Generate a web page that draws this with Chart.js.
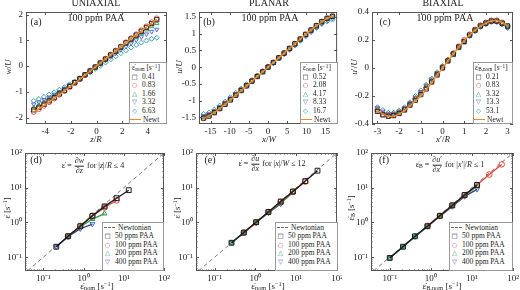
<!DOCTYPE html>
<html>
<head>
<meta charset="utf-8">
<script src="https://cdn.jsdelivr.net/npm/chart.js@4.4.1/dist/chart.umd.min.js"></script>
<style>
body{margin:0;width:520px;height:290px;position:relative;overflow:hidden;background:#fff;font-family:"Liberation Serif","Times New Roman",serif;color:#222}
canvas{position:absolute;display:block}
.t{position:absolute;white-space:nowrap;line-height:1;transform:translate(-50%,-50%);z-index:2}
.rot{transform:translate(-50%,-50%) rotate(-90deg)}
i{font-style:italic}
sub{font-size:70%;line-height:0;vertical-align:-0.25em}
sup{font-size:70%;line-height:0;vertical-align:0.45em}
.leg{position:absolute;z-index:3;background:#fff;border:1px solid #999;box-sizing:border-box;font-size:7.5px;white-space:nowrap;overflow:hidden}
.leg div{height:8.6px;line-height:8.6px}
.sym{display:inline-block;width:9px;text-align:center;margin-right:3px;font-family:"DejaVu Sans",sans-serif;font-size:6.5px}
.ln{display:inline-block;width:11px;height:0;vertical-align:middle;margin-right:2px}
.fr{display:inline-block;vertical-align:middle;text-align:center;margin:0 1px}
.fr span{display:block;line-height:1.1}
.fr span:first-child{border-bottom:0.7px solid #222}
</style>
</head>
<body>

<canvas id="ca" width="172" height="145" style="left:0;top:0"></canvas>
<canvas id="cb" width="170" height="145" style="left:172px;top:0"></canvas>
<canvas id="cc" width="178" height="145" style="left:342px;top:0"></canvas>
<canvas id="cd" width="172" height="145" style="left:0;top:145px"></canvas>
<canvas id="ce" width="170" height="145" style="left:172px;top:145px"></canvas>
<canvas id="cf" width="178" height="145" style="left:342px;top:145px"></canvas>

<!-- top row text -->
<div class="t" style="left:96px;top:3px;font-size:10px">UNIAXIAL</div>
<div class="t" style="left:269px;top:3px;font-size:10px">PLANAR</div>
<div class="t" style="left:443px;top:3px;font-size:10px">BIAXIAL</div>
<div class="t" style="left:36px;top:22px;font-size:10px">(a)</div>
<div class="t" style="left:96px;top:18px;font-size:10px">100 ppm PAA</div>
<div class="t" style="left:209px;top:22px;font-size:10px">(b)</div>
<div class="t" style="left:270px;top:18px;font-size:10px">100 ppm PAA</div>
<div class="t" style="left:385px;top:22px;font-size:10px">(c)</div>
<div class="t" style="left:445px;top:18px;font-size:10px">100 ppm PAA</div>

<div class="t rot" style="left:8px;top:67px;font-size:9px"><i>w</i>/<i>U</i></div>
<div class="t rot" style="left:179px;top:67px;font-size:9px"><i>u</i>/<i>U</i></div>
<div class="t rot" style="left:354px;top:67px;font-size:9px"><i>u</i>′/<i>U</i></div>
<div class="t" style="left:96px;top:139px;font-size:9px"><i>z</i>/<i>R</i></div>
<div class="t" style="left:269px;top:139px;font-size:9px"><i>x</i>/<i>W</i></div>
<div class="t" style="left:443px;top:139px;font-size:9px"><i>x</i>′/<i>R</i></div>

<div class="leg" style="left:129px;top:62px;width:38px;height:62px;padding-top:1px">
  <div style="padding-left:2px">ε̇<sub>nom</sub> [s<sup>−1</sup>]</div>
  <div><span class="sym" style="color:#1a1a1a">□</span>0.41</div>
  <div><span class="sym" style="color:#e5433a">○</span>0.83</div>
  <div><span class="sym" style="color:#2e9e46">△</span>1.66</div>
  <div><span class="sym" style="color:#4a5fd0">▽</span>3.32</div>
  <div><span class="sym" style="color:#2396a8">◇</span>6.63</div>
  <div><span class="ln" style="border-top:1.6px solid #f08a24"></span>Newt</div>
</div>
<div class="leg" style="left:300px;top:62px;width:38px;height:62px;padding-top:1px">
  <div style="padding-left:2px">ε̇<sub>nom</sub> [s<sup>−1</sup>]</div>
  <div><span class="sym" style="color:#1a1a1a">□</span>0.52</div>
  <div><span class="sym" style="color:#e5433a">○</span>2.08</div>
  <div><span class="sym" style="color:#2e9e46">△</span>4.17</div>
  <div><span class="sym" style="color:#4a5fd0">▽</span>8.33</div>
  <div><span class="sym" style="color:#2396a8">◇</span>16.7</div>
  <div><span class="ln" style="border-top:1.6px solid #f08a24"></span>Newt</div>
</div>
<div class="leg" style="left:473px;top:62px;width:40px;height:62px;padding-top:1px">
  <div style="padding-left:1px">ε̇<sub>B,nom</sub> [s<sup>−1</sup>]</div>
  <div><span class="sym" style="color:#1a1a1a">□</span>0.21</div>
  <div><span class="sym" style="color:#e5433a">○</span>0.83</div>
  <div><span class="sym" style="color:#2e9e46">△</span>3.32</div>
  <div><span class="sym" style="color:#4a5fd0">▽</span>13.3</div>
  <div><span class="sym" style="color:#2396a8">◇</span>53.1</div>
  <div><span class="ln" style="border-top:1.6px solid #f08a24"></span>Newt</div>
</div>

<!-- bottom row text -->
<div class="t" style="left:36px;top:160px;font-size:10px">(d)</div>
<div class="t" style="left:210px;top:160px;font-size:10px">(e)</div>
<div class="t" style="left:384px;top:160px;font-size:10px">(f)</div>
<div class="t" style="left:93px;top:166px;font-size:8px">ε̇ = <span class="fr"><span>∂<i>w</i></span><span>∂<i>z</i></span></span> for |<i>z</i>|/<i>R</i> ≤ 4</div>
<div class="t" style="left:272px;top:164px;font-size:8px">ε̇ = <span class="fr"><span>∂<i>u</i></span><span>∂<i>x</i></span></span> for |<i>x</i>|/<i>W</i> ≤ 12</div>
<div class="t" style="left:450px;top:165px;font-size:8px">ε̇<sub>B</sub> = <span class="fr"><span>∂<i>u</i>′</span><span>∂<i>x</i>′</span></span> for |<i>x</i>′|/<i>R</i> ≤ 1</div>

<div class="t rot" style="left:7px;top:208px;font-size:8.5px">ε̇ [s<sup>−1</sup>]</div>
<div class="t rot" style="left:177px;top:208px;font-size:8.5px">ε̇ [s<sup>−1</sup>]</div>
<div class="t rot" style="left:351px;top:208px;font-size:8.5px">ε̇<sub>B</sub> [s<sup>−1</sup>]</div>
<div class="t" style="left:97px;top:286px;font-size:9px">ε̇<sub>nom</sub> [s<sup>−1</sup>]</div>
<div class="t" style="left:268px;top:286px;font-size:9px">ε̇<sub>nom</sub> [s<sup>−1</sup>]</div>
<div class="t" style="left:442px;top:286px;font-size:9px">ε̇<sub>B,nom</sub> [s<sup>−1</sup>]</div>

<div class="leg" style="left:102px;top:222px;width:62px;height:49px;padding-top:0.5px">
  <div><span class="ln" style="border-top:1px dashed #666;margin:0 3px 0 1px"></span>Newtonian</div>
  <div><span class="sym" style="color:#1a1a1a">□</span>50 ppm PAA</div>
  <div><span class="sym" style="color:#e5433a">○</span>100 ppm PAA</div>
  <div><span class="sym" style="color:#2e9e46">△</span>200 ppm PAA</div>
  <div><span class="sym" style="color:#4a5fd0">▽</span>400 ppm PAA</div>
</div>
<div class="leg" style="left:275px;top:222px;width:63px;height:49px;padding-top:0.5px">
  <div><span class="ln" style="border-top:1px dashed #666;margin:0 3px 0 1px"></span>Newtonian</div>
  <div><span class="sym" style="color:#1a1a1a">□</span>50 ppm PAA</div>
  <div><span class="sym" style="color:#e5433a">○</span>100 ppm PAA</div>
  <div><span class="sym" style="color:#2e9e46">△</span>200 ppm PAA</div>
  <div><span class="sym" style="color:#4a5fd0">▽</span>400 ppm PAA</div>
</div>
<div class="leg" style="left:449px;top:222px;width:64px;height:49px;padding-top:0.5px">
  <div><span class="ln" style="border-top:1px dashed #666;margin:0 3px 0 1px"></span>Newtonian</div>
  <div><span class="sym" style="color:#1a1a1a">□</span>50 ppm PAA</div>
  <div><span class="sym" style="color:#e5433a">○</span>100 ppm PAA</div>
  <div><span class="sym" style="color:#2e9e46">△</span>200 ppm PAA</div>
  <div><span class="sym" style="color:#4a5fd0">▽</span>400 ppm PAA</div>
</div>

<script>
// (a) uniaxial profiles, w/U against z/R
var zR = [-4.9,-4.5,-4.1,-3.7,-3.3,-2.9,-2.5,-2.1,-1.7,-1.3,-0.9,-0.5,-0.1,0.3,0.7,1.1,1.5,1.9,2.3,2.7,3.1,3.5,3.9,4.3,4.7];
var uniNewt = [-1.78,-1.66,-1.53,-1.39,-1.25,-1.11,-0.96,-0.81,-0.66,-0.51,-0.35,-0.2,-0.04,0.12,0.28,0.43,0.59,0.75,0.91,1.06,1.21,1.36,1.52,1.67,1.82];
var uni041 = [-1.7,-1.6,-1.48,-1.35,-1.22,-1.08,-0.94,-0.79,-0.64,-0.49,-0.34,-0.19,-0.04,0.12,0.27,0.43,0.58,0.74,0.9,1.05,1.2,1.35,1.5,1.65,1.8];
var uni083 = [-1.78,-1.67,-1.54,-1.4,-1.26,-1.11,-0.97,-0.82,-0.66,-0.51,-0.35,-0.2,-0.04,0.12,0.28,0.44,0.6,0.76,0.92,1.08,1.23,1.39,1.54,1.7,1.85];
var uni166 = [-1.62,-1.52,-1.41,-1.29,-1.16,-1.03,-0.9,-0.76,-0.62,-0.47,-0.33,-0.18,-0.04,0.11,0.26,0.41,0.56,0.7,0.85,0.99,1.13,1.27,1.41,1.54,1.66];
var uni332 = [-1.48,-1.4,-1.31,-1.21,-1.1,-0.99,-0.87,-0.74,-0.61,-0.48,-0.34,-0.2,-0.06,0.08,0.22,0.36,0.5,0.63,0.76,0.89,1.01,1.13,1.24,1.34,1.42];
var uni663 = [-1.35,-1.28,-1.2,-1.11,-1.02,-0.92,-0.82,-0.71,-0.6,-0.48,-0.36,-0.24,-0.11,0.01,0.14,0.26,0.38,0.5,0.61,0.72,0.82,0.91,0.99,1.06,1.1];

// (b) planar profiles, u/U against x/W
var xW = [-16.8,-15.4,-14,-12.6,-11.2,-9.8,-8.4,-7,-5.6,-4.2,-2.8,-1.4,0,1.4,2.8,4.2,5.6,7,8.4,9.8,11.2,12.6,14,15.4,16.8];
var plaNewt = [-1.53,-1.46,-1.35,-1.24,-1.11,-0.98,-0.84,-0.7,-0.56,-0.42,-0.28,-0.14,0,0.14,0.28,0.42,0.56,0.7,0.84,0.98,1.11,1.24,1.35,1.46,1.53];
var pla052 = [-1.52,-1.46,-1.36,-1.24,-1.11,-0.98,-0.84,-0.7,-0.56,-0.42,-0.28,-0.14,0,0.14,0.28,0.42,0.56,0.7,0.84,0.98,1.11,1.24,1.36,1.46,1.52];
var pla208 = [-1.53,-1.46,-1.35,-1.23,-1.1,-0.97,-0.83,-0.69,-0.55,-0.41,-0.27,-0.13,0.01,0.14,0.28,0.42,0.56,0.7,0.84,0.98,1.11,1.24,1.36,1.46,1.53];
var pla417 = [-1.5,-1.44,-1.34,-1.22,-1.09,-0.96,-0.82,-0.68,-0.55,-0.41,-0.27,-0.13,0,0.14,0.28,0.42,0.55,0.69,0.83,0.97,1.1,1.23,1.35,1.45,1.51];
var pla833 = [-1.45,-1.4,-1.31,-1.19,-1.06,-0.93,-0.8,-0.66,-0.53,-0.4,-0.26,-0.13,0,0.13,0.27,0.4,0.54,0.67,0.81,0.94,1.07,1.19,1.31,1.4,1.46];
var pla167 = [-1.4,-1.36,-1.27,-1.15,-1.03,-0.9,-0.77,-0.64,-0.51,-0.38,-0.25,-0.12,0,0.13,0.26,0.39,0.52,0.65,0.79,0.92,1.05,1.17,1.29,1.37,1.42];

// (c) biaxial profiles, u'/U against x'/R
var xpR = [-3,-2.75,-2.5,-2.25,-2,-1.75,-1.5,-1.25,-1,-0.75,-0.5,-0.25,0,0.25,0.5,0.75,1,1.25,1.5,1.75,2,2.25,2.5,2.75,3];
var biaNewt = [-0.3,-0.33,-0.345,-0.345,-0.33,-0.305,-0.27,-0.235,-0.2,-0.155,-0.105,-0.053,0,0.05,0.1,0.15,0.195,0.235,0.27,0.3,0.32,0.338,0.34,0.325,0.3];
var bia021 = [-0.31,-0.335,-0.345,-0.34,-0.325,-0.3,-0.265,-0.23,-0.19,-0.15,-0.1,-0.05,0,0.05,0.1,0.15,0.19,0.235,0.27,0.3,0.32,0.335,0.335,0.32,0.3];
var bia083 = [-0.3,-0.33,-0.34,-0.335,-0.32,-0.295,-0.26,-0.22,-0.18,-0.14,-0.095,-0.045,0.005,0.055,0.105,0.155,0.2,0.24,0.275,0.305,0.325,0.34,0.34,0.325,0.3];
var bia332 = [-0.3,-0.325,-0.335,-0.33,-0.315,-0.29,-0.255,-0.215,-0.18,-0.13,-0.09,-0.04,0.01,0.05,0.09,0.14,0.18,0.23,0.27,0.3,0.32,0.335,0.335,0.32,0.295];
var bia133 = [-0.285,-0.31,-0.325,-0.325,-0.31,-0.285,-0.25,-0.21,-0.17,-0.125,-0.08,-0.035,0.01,0.055,0.1,0.15,0.19,0.23,0.265,0.295,0.315,0.33,0.33,0.315,0.29];
var bia531 = [-0.28,-0.3,-0.32,-0.32,-0.305,-0.28,-0.245,-0.2,-0.16,-0.12,-0.075,-0.03,0.015,0.06,0.105,0.15,0.19,0.23,0.265,0.295,0.315,0.33,0.33,0.31,0.285];

// (d)-(f) measured vs nominal strain rate
var uniRate = [0.21,0.41,0.83,1.66,3.32,6.63,13.3];
var uni50 = [0.2,0.4,0.78,1.55,2.9,5.0,8.5];
var uni100 = [null,0.4,0.8,1.55,2.7,4.3,null];
var uni200 = [null,0.4,0.75,1.25,1.8,null,null];
var uni400 = [0.2,0.39,0.66,0.9,null,null,null];

var plaRate = [0.26,0.52,1.04,2.08,4.17,8.33,16.7,33.3];
var pla50 = [0.26,0.51,1.02,2.0,4.0,7.8,15.5,31];
var pla100 = [null,0.51,1.0,2.0,3.9,7.6,15,null];
var pla200 = [0.26,0.51,1.0,1.95,3.6,7.3,null,null];
var pla400 = [0.26,0.5,0.99,1.9,3.4,null,null,null];

var biaRate = [0.1,0.21,0.41,0.83,1.66,3.32,6.63,13.3,26.5,53.1];
var bia50 = [0.095,0.2,0.4,0.78,1.55,3.1,6.2,12,null,null];
var bia100 = [null,null,null,0.8,1.55,3.1,6.0,12,24,47];
var bia200 = [0.095,0.2,0.4,0.78,1.5,3.0,5.8,11,null,null];
var bia400 = [0.095,0.2,0.39,0.77,1.5,2.9,5.6,9,null,null];

var newtRange = [0.03, 100];

// tick labels
var aXTicks = [-4,-2,0,2,4], aYTicks = [-2,-1,0,1,2];
var bXTicks = [-15,-10,-5,0,5,10,15], bYTicks = [-1.5,-1,-0.5,0,0.5,1,1.5];
var cXTicks = [-3,-2,-1,0,1,2,3], cYTicks = [-0.4,-0.2,0,0.2,0.4];
var logTicks = [0.1,1,10,100];
var logLabels = ['10⁻¹','10⁰','10¹','10²'];

var black = '#1a1a1a', red = '#e5433a', green = '#2e9e46', blue = '#4a5fd0', navy = '#2b3a8f', teal = '#2396a8', orange = '#f08a24';

Chart.defaults.font.family = '"Liberation Serif", "Times New Roman", serif';
Chart.defaults.color = '#222';

function pts(xs, ys) {
    return xs.map(function (x, i) { return { x: x, y: ys[i] }; }).filter(function (p) { return p.y !== null; });
}

// box round the plot with inward ticks, like the original
var frame = {
    id: 'frame',
    afterDraw: function (chart) {
        var c = chart.ctx, a = chart.chartArea;
        c.save();
        c.strokeStyle = '#555';
        c.lineWidth = 1;
        c.strokeRect(a.left + 0.5, a.top + 0.5, a.right - a.left - 1, a.bottom - a.top - 1);
        c.beginPath();
        ['x', 'y'].forEach(function (k) {
            var s = chart.scales[k];
            var vals = s.ticks.map(function (t) { return { v: t.value, len: 3 }; });
            if (s.type === 'logarithmic') {
                [0.01, 0.1, 1, 10].forEach(function (d) {
                    for (var m = 2; m < 10; m++) {
                        if (m * d > s.min && m * d < s.max) vals.push({ v: m * d, len: 1.5 });
                    }
                });
            }
            vals.forEach(function (t) {
                var p = Math.round(s.getPixelForValue(t.v)) + 0.5;
                if (k === 'x') {
                    c.moveTo(p, a.bottom); c.lineTo(p, a.bottom - t.len);
                    c.moveTo(p, a.top); c.lineTo(p, a.top + t.len);
                } else {
                    c.moveTo(a.left, p); c.lineTo(a.left + t.len, p);
                    c.moveTo(a.right, p); c.lineTo(a.right - t.len, p);
                }
            });
        });
        c.stroke();
        c.restore();
    }
};

function axis(type, min, max, ticks, labels, size, isY) {
    return {
        type: type, min: min, max: max,
        grid: { display: false, drawTicks: false, tickLength: 0 }, border: { display: false },
        ticks: {
            font: { size: 9 }, padding: isY ? 3 : 2, autoSkip: false, maxRotation: 0,
            callback: function (v, i) { return labels ? labels[i] : v; }
        },
        afterBuildTicks: function (s) { s.ticks = ticks.map(function (v) { return { value: v }; }); },
        afterFit: function (s) {
            if (isY) { s.width = size; s.paddingTop = 0; s.paddingBottom = 0; }
            else { s.height = size; s.paddingLeft = 0; s.paddingRight = 0; }
        }
    };
}

function marks(xs, ys, color, style, rot) {
    return {
        data: pts(xs, ys), showLine: false,
        pointStyle: style, pointRotation: rot || 0,
        pointRadius: style === 'rect' ? 3 : 2.5,
        pointBorderColor: color, pointBackgroundColor: 'rgba(0,0,0,0)', pointBorderWidth: 0.9
    };
}

function newtLine(xs, ys) {
    return { data: pts(xs, ys), showLine: true, borderColor: orange, borderWidth: 1.4, pointRadius: 0, tension: 0 };
}

function rateSet(xs, ys, color, lineColor, style, rot) {
    return {
        data: pts(xs, ys), showLine: true, borderColor: lineColor, borderWidth: 1.3, tension: 0,
        pointStyle: style, pointRotation: rot || 0, pointRadius: style === 'rect' ? 3.4 : 2.8,
        pointBorderColor: color, pointBackgroundColor: 'rgba(0,0,0,0)', pointBorderWidth: 1
    };
}

function dashLine() {
    return { data: pts(newtRange, newtRange), showLine: true, borderColor: '#777', borderDash: [4, 3], borderWidth: 1, pointRadius: 0 };
}

function panel(id, xAx, yAx, pad, sets) {
    return new Chart(document.getElementById(id), {
        type: 'scatter',
        data: { datasets: sets },
        options: {
            responsive: false, animation: false, devicePixelRatio: 1,
            layout: { padding: { top: pad[0], right: pad[1], bottom: 0, left: 0 } },
            plugins: { legend: { display: false }, tooltip: { enabled: false } },
            scales: { x: xAx, y: yAx }
        },
        plugins: [frame]
    });
}

panel('ca', axis('linear', -5.5, 5.5, aXTicks, null, 21, false), axis('linear', -2.25, 2.1, aYTicks, null, 26, true), [12, 5], [
    newtLine(zR, uniNewt),
    marks(zR, uni041, black, 'rect'),
    marks(zR, uni083, red, 'circle'),
    marks(zR, uni166, green, 'triangle'),
    marks(zR, uni332, blue, 'triangle', 180),
    marks(zR, uni663, teal, 'rectRot')
]);

panel('cb', axis('linear', -18, 18, bXTicks, null, 21, false), axis('linear', -1.7, 1.65, bYTicks, null, 27, true), [12, 4], [
    newtLine(xW, plaNewt),
    marks(xW, pla052, black, 'rect'),
    marks(xW, pla208, red, 'circle'),
    marks(xW, pla417, green, 'triangle'),
    marks(xW, pla833, blue, 'triangle', 180),
    marks(xW, pla167, teal, 'rectRot')
]);

panel('cc', axis('linear', -3.25, 3.25, cXTicks, null, 21, false), axis('linear', -0.4, 0.4, cYTicks, null, 30, true), [12, 7], [
    newtLine(xpR, biaNewt),
    marks(xpR, bia021, black, 'rect'),
    marks(xpR, bia083, red, 'circle'),
    marks(xpR, bia332, green, 'triangle'),
    marks(xpR, bia133, blue, 'triangle', 180),
    marks(xpR, bia531, teal, 'rectRot')
]);

panel('cd', axis('logarithmic', 0.035, 100, logTicks, logLabels, 19, false), axis('logarithmic', 0.04, 100, logTicks, logLabels, 25, true), [8, 8], [
    rateSet(uniRate, uni50, black, black, 'rect'),
    rateSet(uniRate, uni100, red, red, 'circle'),
    rateSet(uniRate, uni200, green, green, 'triangle'),
    rateSet(uniRate, uni400, blue, navy, 'triangle', 180),
    dashLine()
]);

panel('ce', axis('logarithmic', 0.035, 100, logTicks, logLabels, 19, false), axis('logarithmic', 0.04, 100, logTicks, logLabels, 24, true), [8, 4], [
    rateSet(plaRate, pla50, black, black, 'rect'),
    rateSet(plaRate, pla100, red, red, 'circle'),
    rateSet(plaRate, pla200, green, green, 'triangle'),
    rateSet(plaRate, pla400, blue, navy, 'triangle', 180),
    dashLine()
]);

panel('cf', axis('logarithmic', 0.035, 100, logTicks, logLabels, 19, false), axis('logarithmic', 0.04, 100, logTicks, logLabels, 29, true), [8, 7], [
    rateSet(biaRate, bia50, black, black, 'rect'),
    rateSet(biaRate, bia100, red, red, 'circle'),
    rateSet(biaRate, bia200, green, green, 'triangle'),
    rateSet(biaRate, bia400, blue, navy, 'triangle', 180),
    dashLine()
]);
</script>
</body>
</html>
